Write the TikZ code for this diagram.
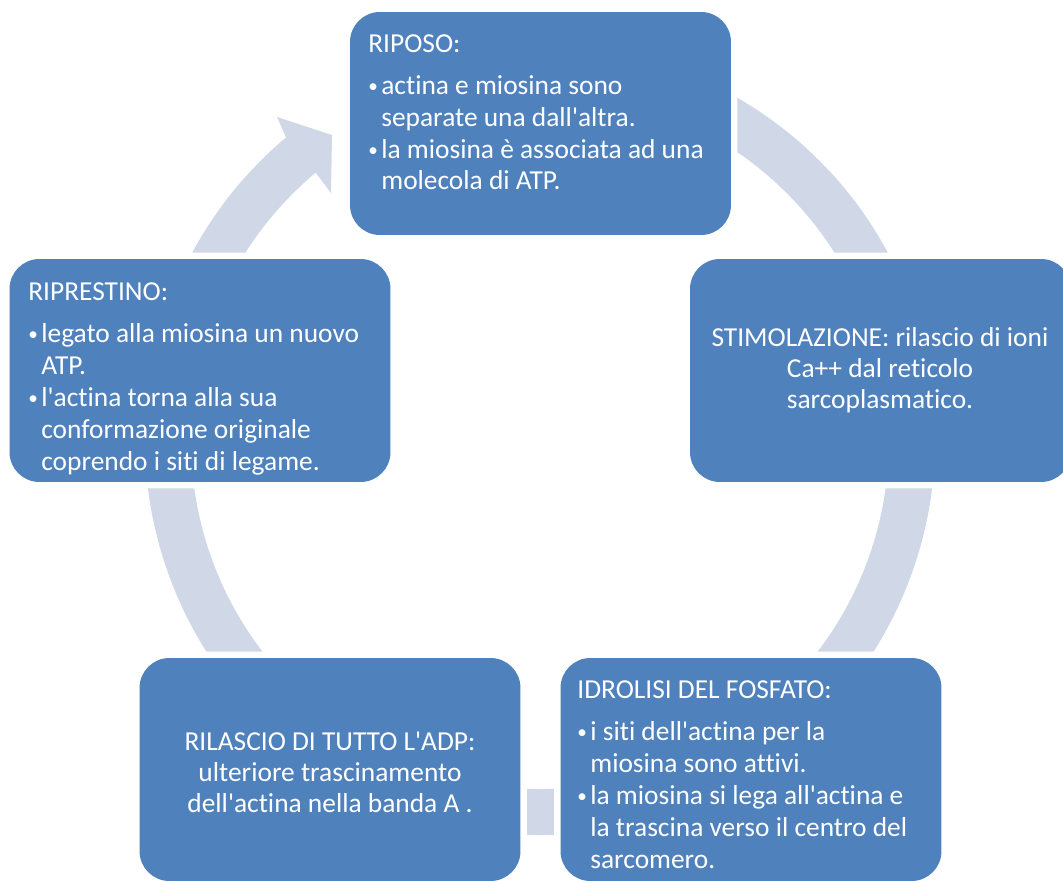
\documentclass[tikz,border=0pt]{standalone}
\usepackage{graphicx}
\usepackage{fontspec}
\setmainfont{Carlito}[Ligatures={TeXOff,NoCommon}]
\definecolor{boxblue}{RGB}{79,129,189}
\definecolor{ringcol}{RGB}{208,216,232}
\newcommand{\mybul}{\makebox[7.4pt][l]{\raisebox{1.2pt}{\scalebox{0.7}{•}}}}
\newcommand{\myind}{\hspace*{7.4pt}}
\begin{document}
\begin{tikzpicture}[x=0.02cm,y=-0.02cm,
  box/.style={fill=boxblue, rounded corners=17pt, inner sep=0pt,
    minimum width=7.62cm, minimum height=4.46cm,
    preaction={draw=white, line width=7.4pt}},
  txt/.style={text=white, font=\fontsize{15.6}{18.1}\selectfont, inner sep=0pt, align=left, anchor=base west},
  ctxt/.style={text=white, font=\fontsize{15.6}{17.6}\selectfont, inner sep=0pt, align=center, anchor=base}]
\useasboundingbox (0,0) rectangle (1063,882);

% ring arrow
\coordinate (ob) at (277,117);
\coordinate (ta) at (332,135);
\coordinate (tb) at (331,193);
\begin{scope}[shift={(540,440)}]
\fill[ringcol] (-110:395) arc[start angle=-110, end angle=230, radius=395]
  -- (ob) -- (ta) -- (tb) -- (230:349)
  arc[start angle=230, end angle=-110, radius=349] -- cycle;
\end{scope}

% boxes
\node[box] (riposo) at (540.5,123.5) {};
\node[box] (stim) at (880.5,370.5) {};
\node[box] (ripr) at (200,370.5) {};
\node[box] (rilascio) at (330,769.5) {};
\node[box] (idrolisi) at (751,769.5) {};

% texts (anchored at the baseline of the last line)
\node[txt] (tRiposo) at (368,190) {RIPOSO:\\[5.7pt]
\mybul actina e miosina sono\\
\myind separate una dall'altra.\\
\mybul la miosina è associata ad una\\
\myind molecola di ATP.};

\node[ctxt] (tStim) at (880,408) {STIMOLAZIONE: rilascio di ioni\\
Ca++ dal reticolo\\
sarcoplasmatico.};

\node[txt] (tRipr) at (28,470) {RIPRESTINO:\\[5.7pt]
\mybul legato alla miosina un nuovo\\
\myind ATP.\\
\mybul l'actina torna alla sua\\
\myind conformazione originale\\
\myind coprendo i siti di legame.};

\node[ctxt] (tRilascio) at (330,812) {RILASCIO DI TUTTO L'ADP:\\
ulteriore trascinamento\\
dell'actina nella banda A .};

\node[txt] (tIdrolisi) at (577,868) {IDROLISI DEL FOSFATO:\\[5.7pt]
\mybul i siti dell'actina per la\\
\myind miosina sono attivi.\\
\mybul la miosina si lega all'actina e\\
\myind la trascina verso il centro del\\
\myind sarcomero.};
\end{tikzpicture}
\end{document}
